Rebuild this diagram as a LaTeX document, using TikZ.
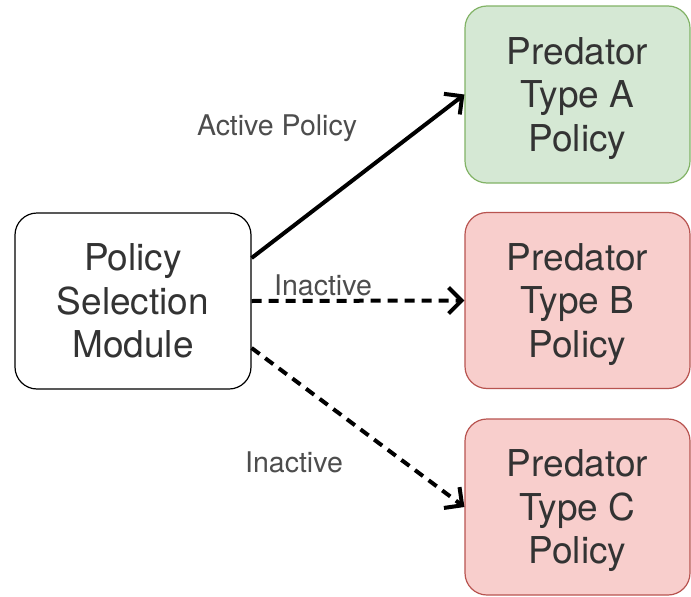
\documentclass[tikz,border=0pt]{standalone}
\usepackage{fontspec}
\setmainfont{TeX Gyre Heros}
\usetikzlibrary{arrows.meta,calc}
\definecolor{txt}{HTML}{333333}
\definecolor{lbl}{HTML}{4D4D4D}
\definecolor{okfill}{HTML}{D5E8D4}
\definecolor{okline}{HTML}{82B366}
\definecolor{offfill}{HTML}{F8CECC}
\definecolor{offline}{HTML}{B85450}
% three centred lines, set a little below the box centre
\newcommand{\boxlines}[1]{\raisebox{-11pt}[0pt][0pt]{\begin{tabular}{@{}c@{}}#1\end{tabular}}}
\tikzset{
  box/.style={draw, rounded corners=22pt, line width=1.2pt, align=center,
    text=txt, font=\fontsize{37}{43.5}\selectfont, inner sep=0pt},
  module/.style={box, draw=black, fill=white, minimum width=236pt, minimum height=176pt},
  policyok/.style={box, draw=okline, fill=okfill, minimum width=225pt, minimum height=177pt},
  policyoff/.style={box, draw=offline, fill=offfill, minimum width=225pt, minimum height=176pt},
  link/.style={line width=4pt, -{Straight Barb[length=13pt,width=26pt,line width=4pt]}},
  idle/.style={link, dash pattern=on 10pt off 7pt},
  tag/.style={text=lbl, font=\fontsize{28.5}{32}\selectfont, inner sep=0pt}
}
\begin{document}
\begin{tikzpicture}[x=1pt,y=-1pt]
  \useasboundingbox[fill=white] (0,0) rectangle (691,597);
  \node[module] (psm) at (133,301) {\boxlines{Policy\\Selection\\Module}};
  \node[policyok] (pa) at (577.5,94.5) {\boxlines{Predator\\Type A\\Policy}};
  \node[policyoff] (pb) at (577.5,300.5) {\boxlines{Predator\\Type B\\Policy}};
  \node[policyoff] (pc) at (577.5,507) {\boxlines{Predator\\Type C\\Policy}};
  \draw[link] ([yshift=43pt]psm.east) -- (pa.west);
  \draw[idle] (psm.east) -- (pb.west);
  \draw[idle] ([yshift=-47pt]psm.east) -- (pc.west);
  \node[tag] (la) at (277,128) {Active Policy};
  \node[tag] (lb) at (323,285) {Inactive};
  \node[tag] (lc) at (294,462) {Inactive};
\end{tikzpicture}
\end{document}
